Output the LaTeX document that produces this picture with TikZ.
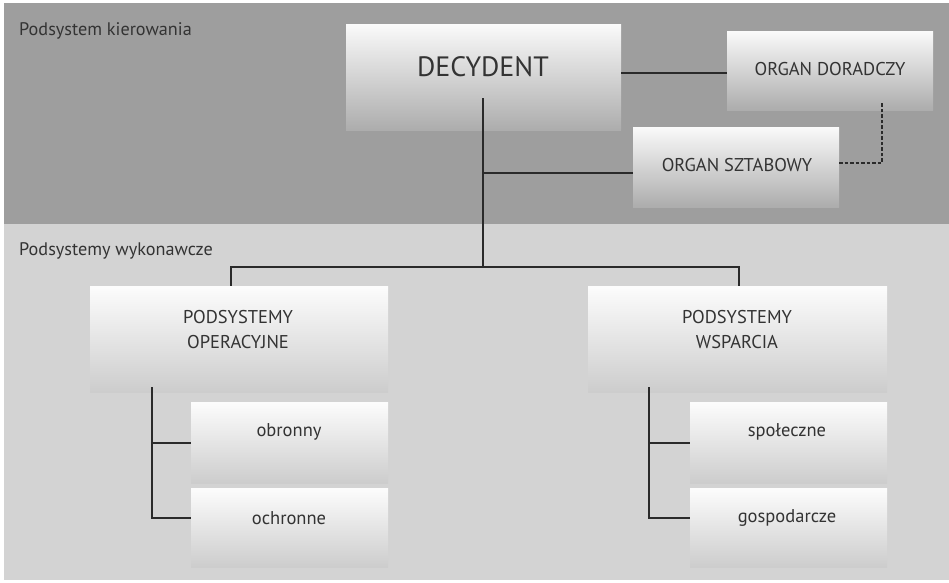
\documentclass[tikz,border=0pt]{standalone}
\usepackage{fontspec}
\setmainfont{PT Sans}
\definecolor{bgdark}{HTML}{9E9E9E}
\definecolor{bglight}{HTML}{D3D3D3}
\definecolor{ink}{HTML}{2A2A2A}
\definecolor{txt}{HTML}{333333}
\tikzset{
  topbox/.style={rectangle, inner sep=0pt, top color=white!98!black, bottom color=bgdark!85!white},
  lowbox/.style={rectangle, inner sep=0pt, top color=white!99!black, bottom color=bglight!97!black},
  lbl/.style={inner sep=0pt, text=txt, font=\fontsize{18.5}{22}\selectfont, align=center},
  sect/.style={inner sep=0pt, anchor=west, text=txt, font=\fontsize{18.2}{21}\selectfont},
  conn/.style={draw=ink, line width=1.5pt},
  dconn/.style={draw=ink, line width=1.5pt, dash pattern=on 3.5pt off 2pt}
}
\begin{document}
\begin{tikzpicture}[x=1pt,y=-1pt]
\useasboundingbox (0,0) rectangle (949,582);
\fill[white] (0,0) rectangle (949,582);
\fill[bgdark] (4,3) rectangle (949,224);
\fill[bglight] (4,224) rectangle (949,580);
\node[sect] (s1) at (19,31) {Podsystem kierowania};
\node[sect] (s2) at (19,251) {Podsystemy wykonawcze};
% boxes
\node[topbox, minimum width=275pt, minimum height=106pt] (dec) at (483.5,77) {};
\node[topbox, minimum width=206pt, minimum height=79pt] (dor) at (830,70.5) {};
\node[topbox, minimum width=206pt, minimum height=80pt] (szt) at (736,167) {};
\node[lowbox, minimum width=298pt, minimum height=106pt] (op) at (239,339) {};
\node[lowbox, minimum width=299pt, minimum height=106pt] (wsp) at (737.5,339) {};
\node[lowbox, minimum width=197pt, minimum height=81pt] (obr) at (289.5,442.5) {};
\node[lowbox, minimum width=197pt, minimum height=79pt] (och) at (289.5,527.5) {};
\node[lowbox, minimum width=197pt, minimum height=81pt] (spo) at (788.5,442.5) {};
\node[lowbox, minimum width=197pt, minimum height=79pt] (gos) at (788.5,527.5) {};
% texts
\node[lbl, font=\fontsize{28}{32}\selectfont] (dect) at (483,67) {DECYDENT};
\node[lbl] (dort) at (830,69) {ORGAN DORADCZY};
\node[lbl] (sztt) at (737,165) {ORGAN SZTABOWY};
\node[lbl, font=\fontsize{18.5}{25}\selectfont] (opt) at (238,330) {PODSYSTEMY\\OPERACYJNE};
\node[lbl, font=\fontsize{18.5}{25}\selectfont] (wspt) at (737,330) {PODSYSTEMY\\WSPARCIA};
\node[lbl] (obrt) at (289,432) {obronny};
\node[lbl] (ocht) at (289,518) {ochronne};
\node[lbl] (spot) at (787,432) {społeczne};
\node[lbl] (gost) at (787,518) {gospodarcze};
% coordinates
\coordinate (d0) at (483,98);
\coordinate (hl) at (231,267);
\coordinate (hr) at (739,267);
\coordinate (dd) at (882,102);
\coordinate (l0) at (152,387);
\coordinate (r0) at (649,387);
% connectors
\draw[conn] (dec.east |- 0,73) -- (dor.west |- 0,73);
\draw[conn] (d0) -- (d0 |- hl);
\draw[conn] (szt.west |- 0,173) -- (d0 |- 0,173);
\draw[dconn] (szt.east |- 0,163) -| (dd);
\draw[conn] (op.north -| hl) -- (hl) -- (hr) -- (hr |- wsp.north);
\draw[conn] (l0) |- (och.west |- 0,518);
\draw[conn] (l0 |- 0,443) -- (obr.west |- 0,443);
\draw[conn] (r0) |- (gos.west |- 0,518);
\draw[conn] (r0 |- 0,443) -- (spo.west |- 0,443);
\end{tikzpicture}
\end{document}
